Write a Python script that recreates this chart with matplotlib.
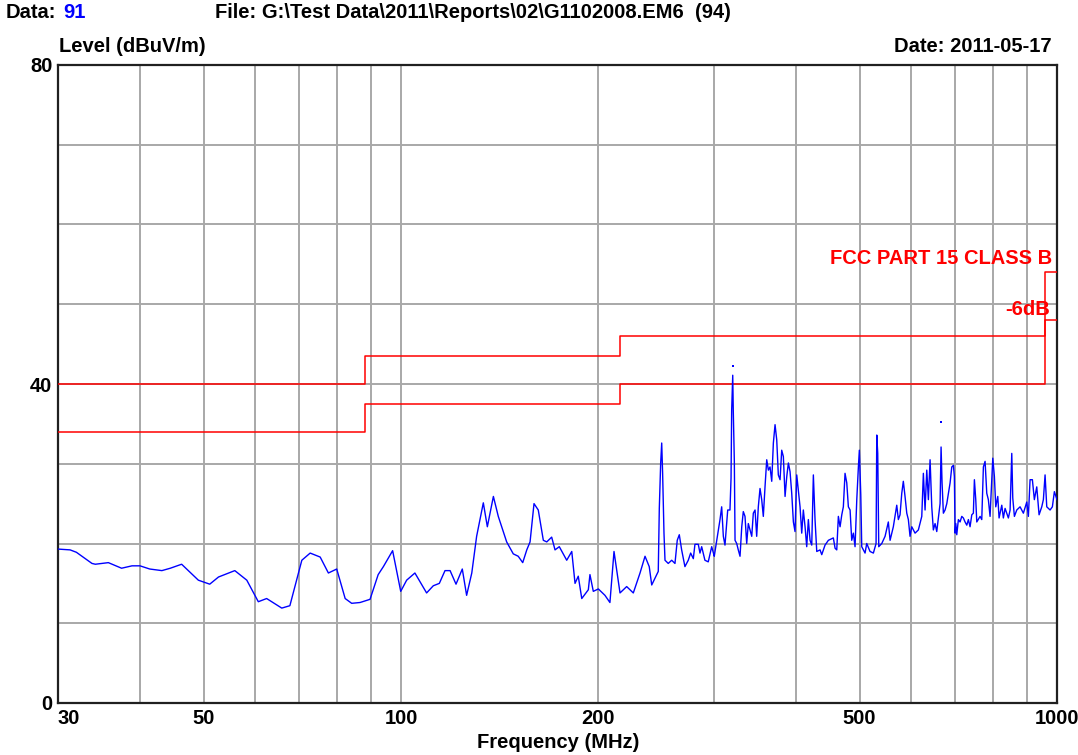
import matplotlib
matplotlib.use("Agg")
import matplotlib.pyplot as plt
from matplotlib.ticker import FixedLocator, NullFormatter

plt.rcParams['font.family'] = ['Liberation Sans', 'DejaVu Sans']
plt.rcParams['font.weight'] = 'bold'

# scan trace (MHz, dBuV/m)
freq = [
    30.0, 31.3, 32.0, 33.8, 34.2, 35.8, 37.5, 38.9, 40.0, 41.4,
    43.2, 44.5, 46.3, 49.1, 51.1, 52.7, 55.8, 58.2, 60.6, 62.4,
    65.8, 67.7, 70.6, 72.7, 75.3, 77.5, 79.8, 82.2, 84.1, 86.6,
    89.7, 92.3, 94.0, 97.1, 99.9, 102.0, 105.0, 109.4, 112.0, 114.4,
    116.7, 118.8, 121.3, 124.0, 125.9, 128.2, 130.4, 133.5, 135.4, 138.3,
    140.7, 144.9, 148.3, 150.9, 153.3, 155.5, 157.3, 159.5, 161.9, 164.8,
    166.8, 169.7, 171.7, 174.3, 178.9, 182.1, 184.2, 186.3, 188.6, 193.0,
    194.1, 196.4, 199.9, 204.6, 208.2, 211.2, 215.7, 220.8, 226.0, 231.4,
    235.5, 239.0, 241.1, 246.7, 247.6, 248.8, 249.7, 250.5, 251.7, 252.6,
    255.5, 258.6, 261.6, 263.7, 265.6, 267.8, 270.9, 274.1, 276.4, 279.0,
    280.6, 283.9, 285.6, 287.3, 290.6, 294.0, 297.6, 300.3, 300.8, 306.4,
    308.2, 310.0, 311.8, 314.8, 317.3, 318.5, 319.2, 320.4, 321.0, 322.2,
    323.0, 324.9, 326.7, 328.7, 330.7, 332.5, 334.5, 336.5, 338.4, 340.4,
    342.5, 344.4, 346.5, 348.5, 350.5, 352.6, 354.7, 356.7, 358.9, 361.0,
    363.1, 365.2, 367.4, 369.5, 371.7, 373.9, 376.0, 378.3, 380.5, 382.7,
    385.0, 387.3, 389.5, 391.8, 394.1, 396.4, 398.7, 401.1, 403.4, 405.8,
    408.2, 410.5, 413.0, 415.4, 417.8, 420.3, 422.8, 425.2, 427.7, 430.3,
    435.3, 437.9, 443.0, 448.2, 456.1, 458.9, 461.6, 464.2, 467.0, 469.8,
    472.4, 475.2, 478.1, 480.8, 483.7, 486.5, 489.3, 492.2, 495.2, 498.0,
    499.7, 502.2, 503.9, 509.8, 512.8, 518.8, 524.9, 529.9, 531.2, 533.0,
    534.9, 540.6, 546.9, 553.2, 556.6, 563.0, 569.8, 573.0, 576.4, 579.9,
    583.1, 586.6, 590.2, 593.5, 597.0, 600.6, 607.6, 614.7, 622.1, 625.6,
    629.3, 633.1, 636.7, 640.5, 644.3, 647.9, 651.8, 655.7, 659.4, 663.4,
    665.7, 668.0, 671.1, 675.1, 679.2, 687.1, 691.2, 695.1, 697.5, 699.3,
    701.0, 703.4, 707.4, 711.6, 715.9, 719.9, 724.2, 728.6, 732.7, 737.0,
    741.5, 745.6, 748.3, 751.9, 754.6, 763.4, 767.9, 772.3, 776.9, 781.5,
    785.9, 790.6, 795.4, 798.2, 802.7, 806.6, 812.3, 816.0, 823.8, 828.4,
    833.4, 843.1, 848.2, 853.2, 856.2, 861.1, 868.3, 878.4, 888.7, 899.3,
    904.4, 909.8, 917.2, 923.6, 931.4, 939.0, 947.9, 953.3, 959.0, 964.7,
    976.0, 983.9, 990.8, 1000.0,
]
level = [
    19.3, 19.2, 18.9, 17.5, 17.4, 17.6, 16.9, 17.2, 17.2, 16.8,
    16.6, 16.9, 17.4, 15.4, 14.9, 15.8, 16.6, 15.4, 12.7, 13.1,
    11.9, 12.2, 17.9, 18.8, 18.3, 16.3, 16.8, 13.1, 12.5, 12.6,
    13.0, 16.1, 17.1, 19.1, 14.0, 15.4, 16.3, 13.8, 14.7, 15.0,
    16.6, 16.6, 14.9, 16.8, 13.5, 16.3, 20.9, 25.1, 22.1, 25.9,
    23.4, 20.2, 18.7, 18.4, 17.6, 19.2, 20.2, 25.0, 24.2, 20.4,
    20.2, 20.8, 19.2, 19.6, 17.9, 19.0, 15.0, 15.9, 13.1, 14.2,
    16.1, 14.0, 14.3, 13.5, 12.6, 19.0, 13.8, 14.6, 13.8, 16.3,
    18.4, 17.1, 14.8, 16.5, 24.4, 30.1, 32.6, 28.8, 21.3, 17.9,
    17.5, 17.9, 17.5, 20.4, 21.1, 19.2, 17.1, 17.9, 18.8, 18.1,
    19.9, 19.9, 18.8, 19.6, 17.9, 17.7, 19.6, 18.4, 18.8, 23.0,
    24.6, 20.9, 19.8, 24.2, 24.2, 28.2, 36.7, 41.1, 36.7, 30.3,
    20.4, 20.0, 19.2, 18.4, 22.1, 24.0, 23.4, 20.0, 22.5, 21.7,
    20.9, 23.8, 24.2, 20.9, 24.6, 26.9, 25.5, 23.4, 27.2, 30.5,
    29.2, 29.6, 27.8, 32.6, 34.9, 33.0, 28.6, 28.0, 31.7, 30.9,
    25.9, 28.4, 30.1, 29.0, 26.3, 22.7, 21.5, 28.6, 26.7, 24.6,
    21.3, 24.2, 22.1, 19.6, 23.0, 20.4, 19.8, 28.6, 23.0, 19.0,
    19.2, 18.6, 19.8, 20.4, 20.7, 19.4, 19.2, 23.4, 22.1, 23.6,
    24.6, 28.8, 27.6, 24.6, 24.2, 20.4, 21.3, 19.6, 25.5, 29.6,
    31.7, 26.1, 19.6, 18.8, 20.0, 19.0, 18.8, 20.0, 33.6, 31.3,
    19.6, 20.0, 20.9, 22.7, 20.4, 22.1, 24.8, 23.0, 23.6, 26.3,
    27.8, 25.9, 23.8, 23.0, 20.9, 22.1, 21.3, 21.7, 23.4, 28.8,
    24.2, 29.2, 25.5, 30.5, 24.6, 21.7, 22.5, 21.5, 23.2, 25.0,
    32.1, 27.6, 23.8, 24.2, 25.0, 27.6, 29.6, 29.8, 28.4, 21.3,
    22.5, 21.1, 23.0, 22.7, 23.4, 23.2, 22.7, 22.3, 23.0, 22.1,
    23.6, 23.8, 28.0, 25.5, 22.7, 23.4, 23.0, 29.6, 30.3, 26.3,
    25.5, 23.4, 28.0, 30.7, 28.4, 24.6, 25.9, 23.2, 24.8, 23.2,
    24.4, 23.2, 24.2, 31.3, 25.7, 23.4, 24.2, 24.6, 23.8, 25.2,
    23.4, 28.0, 28.0, 25.5, 27.1, 23.6, 24.6, 25.5, 28.6, 24.6,
    24.2, 24.6, 26.5, 25.5,
]

# final measurement dots
mark_freq = [320.4, 665.7]
mark_level = [42.3, 35.2]

# FCC Part 15 class B limit and the -6 dB margin
limit_freq = [30, 88, 216, 960, 1000]
limit_level = [40, 43.5, 46, 54, 54]
margin_level = [v - 6 for v in limit_level]

W, H = 1078, 755
FS = 14.5
fig = plt.figure(figsize=(W / 100, H / 100), dpi=100)
ax = fig.add_axes([58 / W, 1 - 703 / H, 999 / W, 638 / H])

ax.plot(limit_freq, limit_level, color='#ff0000', lw=1.1, drawstyle='steps-post', zorder=3)
ax.plot(limit_freq, margin_level, color='#ff0000', lw=1.1, drawstyle='steps-post', zorder=3)
ax.plot(freq, level, color='#0000ff', lw=1.0, zorder=4)
ax.scatter(mark_freq, mark_level, color='#0000ff', s=3, marker='s', lw=0, zorder=5)

ax.set_xscale('log')
ax.set_xlim(30, 1000)
ax.set_ylim(0, 80)

grid_x = [40, 50, 60, 70, 80, 90, 100, 200, 300, 400, 500, 600, 700, 800, 900]
for gx in grid_x:
    ax.axvline(gx, color='#a8a8a8', lw=1.4, zorder=1)
for gy in range(10, 80, 10):
    ax.axhline(gy, color='#a8a8a8', lw=1.4, zorder=1)

ax.xaxis.set_major_locator(FixedLocator([30, 50, 100, 200, 500, 1000]))
ax.xaxis.set_minor_locator(FixedLocator([]))
ax.xaxis.set_minor_formatter(NullFormatter())
ax.set_xticklabels(['30', '50', '100', '200', '500', '1000'])
ax.set_yticks([0, 40, 80])
ax.set_yticklabels(['0', '40', '80'])
ax.tick_params(length=0, labelsize=FS, pad=4)
for lab in ax.get_xticklabels() + ax.get_yticklabels():
    lab.set_fontweight('bold')
ax.get_xticklabels()[0].set_horizontalalignment('left')

for s in ax.spines.values():
    s.set_color('#202020')
    s.set_linewidth(1.6)

def ftext(x, y, s, **kw):
    fig.text(x / W, 1 - y / H, s, fontsize=FS, fontweight='bold', va='center', **kw)

ftext(6, 13, 'Data:')
ftext(63, 13, '91', color='#0000ff')
ftext(215, 13, 'File: G:\\Test Data\\2011\\Reports\\02\\G1102008.EM6  (94)')
ftext(59, 47, 'Level (dBuV/m)')
ftext(1052, 47, 'Date: 2011-05-17', ha='right')
ftext(1052, 259, 'FCC PART 15 CLASS B', ha='right', color='#ff0000')
ftext(1050, 309, '-6dB', ha='right', color='#ff0000')
ftext(558, 743, 'Frequency (MHz)', ha='center')

fig.savefig('out.png', dpi=100)
